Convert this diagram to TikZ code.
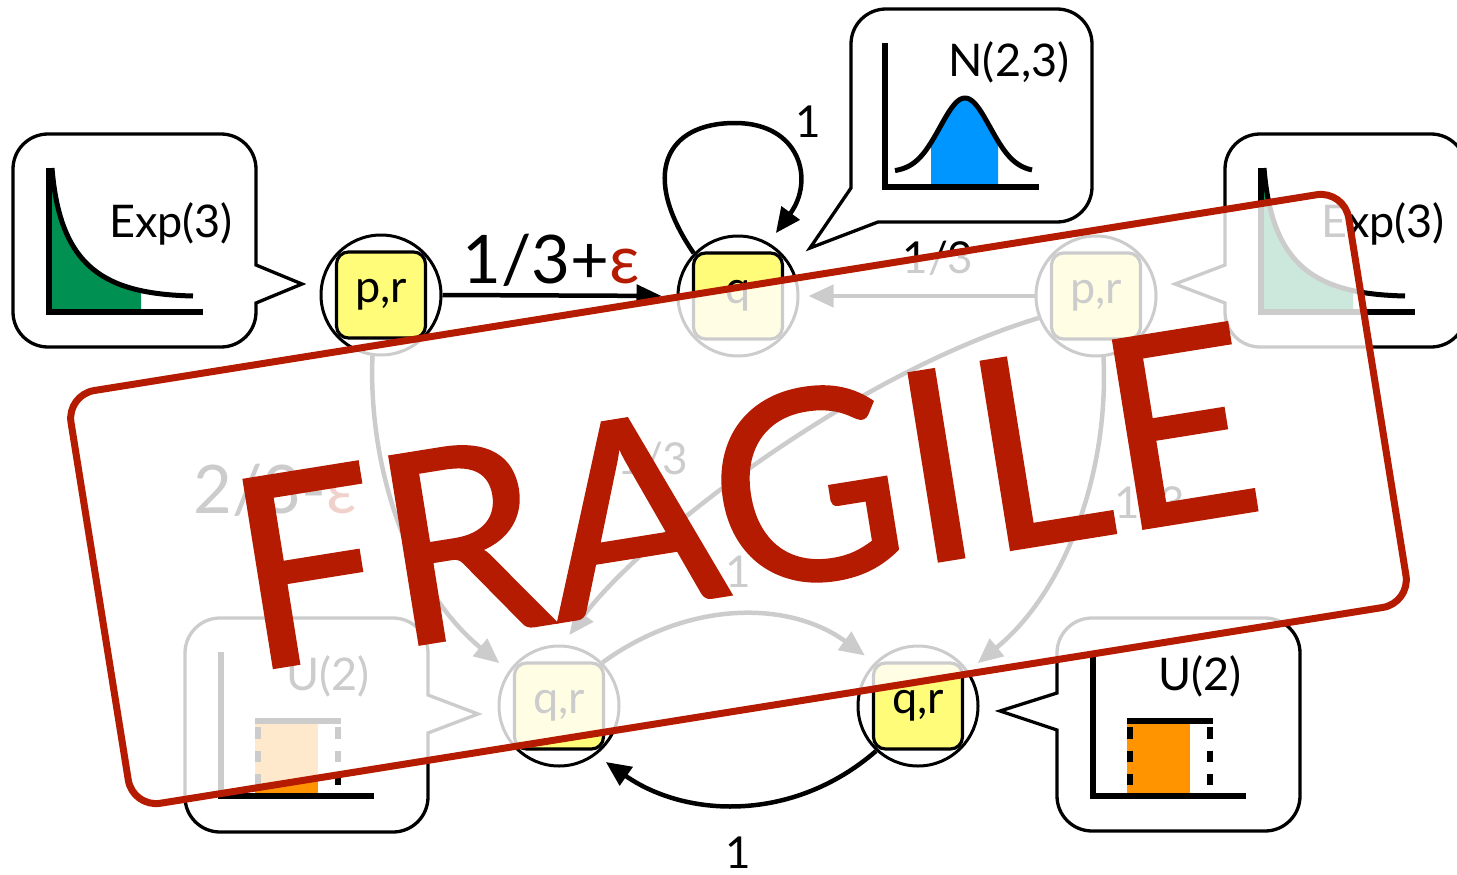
\documentclass[tikz,border=0pt]{standalone}
\usepackage{fontspec}
\usepackage{graphicx}
\setmainfont{Lato}
\newfontfamily\stampfont[FakeBold=1]{Lato}
\usetikzlibrary{arrows.meta}
\definecolor{banana}{HTML}{FFFC79}
\definecolor{moss}{HTML}{009051}
\definecolor{aqua}{HTML}{0096FF}
\definecolor{tangerine}{HTML}{FF9300}
\definecolor{stampred}{HTML}{B51B00}
\tikzset{
  statering/.style={circle, draw=black, line width=3pt, minimum size=120pt, inner sep=0pt},
  statebox/.style={draw=black, fill=banana, line width=3.2pt, rounded corners=12pt, minimum width=89pt, minimum height=86pt, inner sep=0pt, font=\fontsize{45}{45}\selectfont},
  conn/.style={line width=4.5pt, -{Triangle[length=25pt,width=22pt]}, shorten >=12pt},
  bubble/.style={draw=black, fill=white, line width=3.3pt, line join=miter},
  axis/.style={line width=5.5pt},
  smalllab/.style={font=\fontsize{44}{44}\selectfont, inner sep=0pt, anchor=base},
  biglab/.style={font=\fontsize{67}{67}\selectfont, inner sep=0pt, anchor=base},
  plotlab/.style={font=\fontsize{45}{45}\selectfont, inner sep=0pt, anchor=base},
}
\newcommand{\expplot}{%
  \begin{scope}
    \clip (49,-150) rectangle (141,-312);
    \fill[moss] (49,-168) -- (52,-168) .. controls (60,-268) and (105,-294) .. (193,-296) -- (193,-312) -- (49,-312) -- cycle;
  \end{scope}
  \draw[line width=5pt] (52,-168) .. controls (60,-268) and (105,-294) .. (193,-296);
  \draw[axis] (49,-168) -- (49,-312) -- (203,-312);
}
\newcommand{\uplot}{%
  \fill[tangerine] (1127,-721) rectangle (1190,-796);
  \draw[line width=5.5pt] (1127,-721) -- (1213,-721);
  \draw[line width=5.5pt, dash pattern=on 11.7pt off 11.8pt] (1130,-727) -- (1130,-785) (1210,-727) -- (1210,-785);
  \draw[axis] (1093,-652) -- (1093,-796) -- (1246,-796);
}
\begin{document}
\begin{tikzpicture}[x=1pt,y=1pt]
\useasboundingbox (0,0) rectangle (1457,-875);
\begin{scope}
\clip (0,0) rectangle (1457,-875);

% ---------- callouts ----------
% C1 Exp(3) left
\draw[bubble] (256,-265) -- (302,-284) -- (256,-303) -- (256,-312) arc[start angle=0,end angle=-90,radius=35] -- (48,-347) arc[start angle=270,end angle=180,radius=35] -- (13,-169) arc[start angle=180,end angle=90,radius=35] -- (221,-134) arc[start angle=90,end angle=0,radius=35] -- cycle;
\expplot
\node[plotlab] (t1) at (171,-237) {Exp(3)};

% C3 Exp(3) right
\draw[bubble] (1225,-265) -- (1175,-284) -- (1225,-303) -- (1225,-312) arc[start angle=180,end angle=270,radius=35] -- (1431,-347) arc[start angle=270,end angle=360,radius=35] -- (1466,-169) arc[start angle=0,end angle=90,radius=35] -- (1260,-134) arc[start angle=90,end angle=180,radius=35] -- cycle;
\begin{scope}[shift={(1212,0)}]
\expplot
\end{scope}
\node[plotlab] (t3) at (1383,-237) {Exp(3)};

% C2 N(2,3)
\draw[bubble] (851,-188) -- (810,-248) -- (878,-222) -- (1057,-222) arc[start angle=270,end angle=360,radius=35] -- (1092,-44) arc[start angle=0,end angle=90,radius=35] -- (886,-9) arc[start angle=90,end angle=180,radius=35] -- cycle;
\fill[aqua] (931,-187) -- plot[domain=931:998,samples=40] (\x,{-172+74*exp(-((\x-965)*(\x-965))/1250)}) -- (998,-187) -- cycle;
\draw[line width=5pt] plot[domain=895:1032,samples=80] (\x,{-172+74*exp(-((\x-965)*(\x-965))/1250)});
\draw[axis] (885,-43) -- (885,-187) -- (1039,-187);
\node[plotlab] (t2) at (1009,-77) {N(2,3)};

% C4 U(2) left
\draw[bubble] (428,-695) -- (478,-714) -- (428,-733) -- (428,-797) arc[start angle=0,end angle=-90,radius=35] -- (220,-832) arc[start angle=270,end angle=180,radius=35] -- (185,-653) arc[start angle=180,end angle=90,radius=35] -- (393,-618) arc[start angle=90,end angle=0,radius=35] -- cycle;
\begin{scope}[shift={(-872,0)}]
\uplot
\end{scope}
\node[plotlab] (t4) at (328,-690) {U(2)};

% C5 U(2) right
\draw[bubble] (1057,-693) -- (1000,-711) -- (1057,-730) -- (1057,-796) arc[start angle=180,end angle=270,radius=35] -- (1265,-831) arc[start angle=270,end angle=360,radius=35] -- (1300,-653) arc[start angle=0,end angle=90,radius=35] -- (1092,-618) arc[start angle=90,end angle=180,radius=35] -- cycle;
\uplot
\node[plotlab] (t5) at (1200,-690) {U(2)};

% ---------- states ----------
\node[statering] (S1) at (381,-295) {};
\node[statebox] (S1i) at (S1) {p,r};
\node[statering] (S2) at (738,-296) {};
\node[statebox] (S2i) at (S2) {q};
\node[statering] (S3) at (1096,-296) {};
\node[statebox] (S3i) at (S3) {p,r};
\node[statering] (S4) at (559,-706) {};
\node[statebox] (S4i) at (S4) {q,r};
\node[statering] (S5) at (918,-706) {};
\node[statebox] (S5i) at (S5) {q,r};

% ---------- edges ----------
\coordinate (looptop) at (735,-123);
\draw[conn, shorten >=15pt] (S1.east) -- (S2.west);
\draw[conn] (S2.136) .. controls (640,-175) and (665,-123) .. (looptop) .. controls (800,-123) and (815,-180) .. (S2.60);
\draw[conn, shorten >=9pt] (S3.west) -- (S2.east);
\draw[conn] (S1.262) .. controls (368,-470) and (410,-590) .. (S4.145);
\draw[conn] (S3.201) .. controls (850,-375) and (640,-540) .. (S4.87);
\draw[conn] (S3.277) .. controls (1109,-470) and (1067,-590) .. (S5.35);
\draw[conn] (S4.45) to[out=36,in=144] (S5.135);
\draw[conn] (S5.227) to[out=221,in=-35] (S4.307);

% ---------- edge labels ----------
\node[biglab] (l1) at (551,-283) {1/3+\textcolor{stampred}{ε}};
\node[smalllab] (l2) at (808,-137) {1};
\node[smalllab] (l3) at (938,-273) {1/3};
\node[biglab] (l4) at (275,-513) {2/3-\textcolor{stampred}{ε}};
\node[smalllab] (l5) at (653,-474) {1/3};
\node[smalllab] (l6) at (1150,-518) {1/3};
\node[smalllab] (l7) at (738,-587) {1};
\node[smalllab] (l8) at (738,-868) {1};

% ---------- stamp ----------
\begin{scope}[shift={(738.5,-499)}, rotate=9.1]
\draw[line width=7pt, draw=stampred, fill=white, fill opacity=0.8, rounded corners=28pt] (-647,-209) rectangle (647,209);
\node[transform shape, inner sep=0pt, text=stampred] (fragile) at (6,2) {\resizebox{1030pt}{192pt}{\stampfont FRAGILE}};
\end{scope}
\end{scope}
\end{tikzpicture}
\end{document}
